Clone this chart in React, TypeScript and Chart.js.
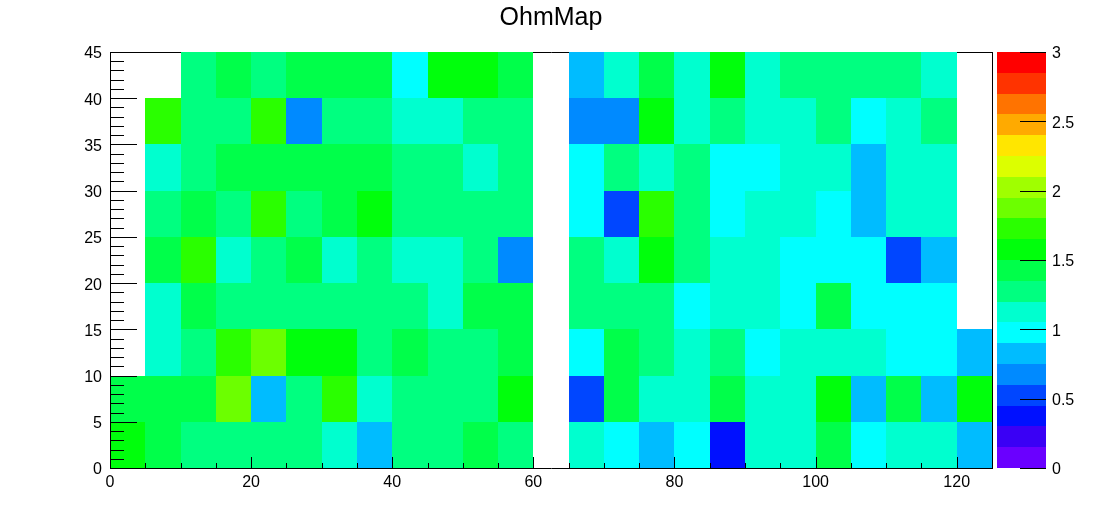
import React, { useEffect, useRef } from "react";
import { Chart, registerables } from "chart.js";

Chart.register(...registerables);

// ---- Data -------------------------------------------------------------
const xBinLow = [0, 5, 10, 15, 20, 25, 30, 35, 40, 45, 50, 55, 60, 65, 70, 75, 80, 85, 90, 95, 100, 105, 110, 115, 120];
const yBinLow = [0, 5, 10, 15, 20, 25, 30, 35, 40];
const binWidth = 5;

const ohmY0 = [1.57, 1.42, 1.27, 1.27, 1.27, 1.27, 1.12, 0.82, 1.27, 1.27, 1.42, 1.27, null, 1.12, 0.97, 0.82, 0.97, 0.37, 1.12, 1.12, 1.42, 0.97, 1.12, 1.12, 0.82];
const ohmY5 = [1.42, 1.42, 1.42, 1.87, 0.82, 1.27, 1.72, 1.12, 1.27, 1.27, 1.27, 1.57, null, 0.52, 1.42, 1.12, 1.12, 1.42, 1.12, 1.12, 1.57, 0.82, 1.42, 0.82, 1.57];
const ohmY10 = [null, 1.12, 1.27, 1.72, 1.87, 1.57, 1.57, 1.27, 1.42, 1.27, 1.27, 1.42, null, 0.97, 1.42, 1.27, 1.12, 1.27, 0.97, 1.12, 1.12, 1.12, 0.97, 0.97, 0.82];
const ohmY15 = [null, 1.12, 1.42, 1.27, 1.27, 1.27, 1.27, 1.27, 1.27, 1.12, 1.42, 1.42, null, 1.27, 1.27, 1.27, 0.97, 1.12, 1.12, 0.97, 1.42, 0.97, 0.97, 0.97, null];
const ohmY20 = [null, 1.42, 1.72, 1.12, 1.27, 1.42, 1.12, 1.27, 1.12, 1.12, 1.27, 0.67, null, 1.27, 1.12, 1.57, 1.27, 1.12, 1.12, 0.97, 0.97, 0.97, 0.52, 0.82, null];
const ohmY25 = [null, 1.27, 1.42, 1.27, 1.72, 1.27, 1.42, 1.57, 1.27, 1.27, 1.27, 1.27, null, 0.97, 0.52, 1.72, 1.27, 0.97, 1.12, 1.12, 0.97, 0.82, 1.12, 1.12, null];
const ohmY30 = [null, 1.12, 1.27, 1.42, 1.42, 1.42, 1.42, 1.42, 1.27, 1.27, 1.12, 1.27, null, 0.97, 1.27, 1.12, 1.27, 0.97, 0.97, 1.12, 1.12, 0.82, 1.12, 1.12, null];
const ohmY35 = [null, 1.72, 1.27, 1.27, 1.72, 0.67, 1.27, 1.27, 1.12, 1.12, 1.27, 1.27, null, 0.67, 0.67, 1.57, 1.12, 1.27, 1.12, 1.12, 1.27, 0.97, 1.12, 1.27, null];
const ohmY40 = [null, null, 1.27, 1.42, 1.27, 1.42, 1.42, 1.42, 0.97, 1.57, 1.57, 1.42, null, 0.82, 1.12, 1.42, 1.12, 1.57, 1.12, 1.27, 1.27, 1.27, 1.27, 1.12, null];
const ohmRows = [ohmY0, ohmY5, ohmY10, ohmY15, ohmY20, ohmY25, ohmY30, ohmY35, ohmY40];

const xTickLabels = [0, 20, 40, 60, 80, 100, 120];
const yTickLabels = [0, 5, 10, 15, 20, 25, 30, 35, 40, 45];
const zTickLabels = [0, 0.5, 1, 1.5, 2, 2.5, 3];
const zMin = 0;
const zMax = 3;

// ---- Style ------------------------------------------------------------
const palette = [
  "#6a00ff", "#3a00f5", "#0010ff", "#0046ff", "#008aff",
  "#00bcff", "#00ffff", "#00ffcf", "#00ff80", "#00ff4a",
  "#00ff0c", "#2aff00", "#6cff00", "#a0ff00", "#dcff00",
  "#ffe600", "#ffaa00", "#ff7300", "#ff3300", "#ff0000",
];
const FONT = "'Liberation Sans', Arial, Helvetica, sans-serif";

function colorFor(v: number) {
  const n = palette.length;
  let i = Math.floor(((v - zMin) / (zMax - zMin)) * n);
  if (i < 0) i = 0;
  if (i >= n) i = n - 1;
  return palette[i];
}

const cells: any[] = [];
ohmRows.forEach((row, yi) => {
  row.forEach((v, xi) => {
    if (v === null) return;
    cells.push({
      x: xBinLow[xi] + binWidth / 2,
      y: yBinLow[yi] + binWidth / 2,
      x0: xBinLow[xi],
      x1: xBinLow[xi] + binWidth,
      y0: yBinLow[yi],
      y1: yBinLow[yi] + binWidth,
      v,
    });
  });
});

const heatPlugin = {
  id: "heat",
  beforeDatasetsDraw(chart: any) {
    const { ctx, chartArea: a, scales } = chart;
    const xs = scales.x;
    const ys = scales.y;
    const cb = scales.cb;
    ctx.save();
    // top frame line (hidden under cells)
    ctx.strokeStyle = "#000";
    ctx.lineWidth = 1;
    ctx.beginPath();
    ctx.moveTo(a.left, a.top + 0.5);
    ctx.lineTo(a.right + 1, a.top + 0.5);
    ctx.stroke();
    // cells
    chart.data.datasets[0].data.forEach((d: any) => {
      const px0 = Math.round(xs.getPixelForValue(d.x0));
      const px1 = Math.round(xs.getPixelForValue(d.x1));
      const py0 = Math.round(ys.getPixelForValue(d.y0));
      const py1 = Math.round(ys.getPixelForValue(d.y1));
      ctx.fillStyle = colorFor(d.v);
      ctx.fillRect(px0, py1, px1 - px0, py0 - py1);
    });
    // colour bar
    const n = palette.length;
    const bx0 = cb.left + 5;
    const bx1 = cb.left + 54;
    for (let i = 0; i < n; i++) {
      const v0 = zMin + ((zMax - zMin) * i) / n;
      const v1 = zMin + ((zMax - zMin) * (i + 1)) / n;
      const p0 = Math.round(cb.getPixelForValue(v0));
      const p1 = Math.round(cb.getPixelForValue(v1));
      ctx.fillStyle = palette[i];
      ctx.fillRect(bx0, p1, bx1 - bx0, p0 - p1);
    }
    ctx.restore();
  },
  afterDatasetsDraw(chart: any) {
    const { ctx, chartArea: a, scales } = chart;
    const xs = scales.x;
    const ys = scales.y;
    const cb = scales.cb;
    ctx.save();
    ctx.strokeStyle = "#000";
    ctx.lineWidth = 1;
    ctx.beginPath();
    // right frame line
    ctx.moveTo(a.right + 0.5, a.top);
    ctx.lineTo(a.right + 0.5, a.bottom + 1);
    // left axis line
    ctx.moveTo(a.left + 0.5, a.top);
    ctx.lineTo(a.left + 0.5, a.bottom + 1);
    // bottom axis line
    ctx.moveTo(a.left, a.bottom + 0.5);
    ctx.lineTo(a.right + 1, a.bottom + 0.5);
    // y ticks (every 1, major every 5)
    for (let v = 0; v <= 45; v += 1) {
      const p = Math.round(ys.getPixelForValue(v)) + 0.5;
      const len = v % 5 === 0 ? 27 : 14;
      ctx.moveTo(a.left, p);
      ctx.lineTo(a.left + len, p);
    }
    // x ticks (every 5, major every 20)
    for (let v = 0; v <= 125; v += 5) {
      const p = Math.round(xs.getPixelForValue(v)) + 0.5;
      const len = v % 20 === 0 ? 12 : 6;
      ctx.moveTo(p, a.bottom + 1);
      ctx.lineTo(p, a.bottom + 1 - len);
    }
    // colour bar ticks
    zTickLabels.forEach((v) => {
      const p = Math.round(cb.getPixelForValue(v)) + 0.5;
      ctx.moveTo(cb.left + 54, p);
      ctx.lineTo(cb.left + 28, p);
    });
    ctx.stroke();
    ctx.restore();
  },
};

export default function App() {
  const ref = useRef<HTMLCanvasElement>(null);
  useEffect(() => {
    const tickFont = { family: FONT, size: 16 };
    const noPad = (s: any) => {
      s.paddingTop = 0;
      s.paddingBottom = 0;
    };
    const chart = new Chart(ref.current!, {
      type: "scatter",
      data: {
        datasets: [
          {
            label: "OhmMap",
            data: cells,
            pointRadius: 0,
            pointHoverRadius: 0,
          },
        ],
      },
      options: {
        responsive: false,
        animation: false,
        events: [],
        layout: { padding: 0 },
        plugins: {
          legend: { display: false },
          tooltip: { enabled: false },
          title: {
            display: true,
            text: "OhmMap",
            color: "#000",
            font: { family: FONT, size: 25, weight: "normal", lineHeight: 1.2 },
            padding: { top: 3, bottom: 19 },
          },
        },
        scales: {
          x: {
            type: "linear",
            min: 0,
            max: 125,
            afterBuildTicks: (s: any) => {
              s.ticks = xTickLabels.map((v) => ({ value: v }));
            },
            afterFit: (s: any) => {
              s.height = 54;
              s.paddingLeft = 0;
              s.paddingRight = 0;
            },
            grid: { display: false, drawTicks: false },
            border: { display: false },
            ticks: { color: "#000", font: tickFont, padding: 5, maxRotation: 0, autoSkip: false },
          },
          y: {
            type: "linear",
            position: "left",
            min: 0,
            max: 45,
            afterBuildTicks: (s: any) => {
              s.ticks = yTickLabels.map((v) => ({ value: v }));
            },
            afterFit: (s: any) => {
              s.width = 110;
              noPad(s);
            },
            grid: { display: false, drawTicks: false },
            border: { display: false },
            ticks: { color: "#000", font: tickFont, padding: 8, autoSkip: false, labelOffset: 2 },
          },
          cb: {
            type: "linear",
            axis: "y",
            position: "right",
            min: zMin,
            max: zMax,
            afterBuildTicks: (s: any) => {
              s.ticks = zTickLabels.map((v) => ({ value: v }));
            },
            afterFit: (s: any) => {
              s.width = 110;
              noPad(s);
            },
            grid: { display: false, drawTicks: false },
            border: { display: false },
            ticks: {
              color: "#000",
              font: tickFont,
              padding: 60,
              autoSkip: false,
              labelOffset: 2,
              callback: (v: any) => String(v),
            },
          },
        },
      },
      plugins: [heatPlugin],
    } as any);
    return () => chart.destroy();
  }, []);
  return (
    <div style={{ position: "fixed", left: 0, top: 0, width: 1102, height: 522, background: "#fff" }}>
      <canvas ref={ref} width={1102} height={522} style={{ display: "block", width: 1102, height: 522 }} />
    </div>
  );
}
